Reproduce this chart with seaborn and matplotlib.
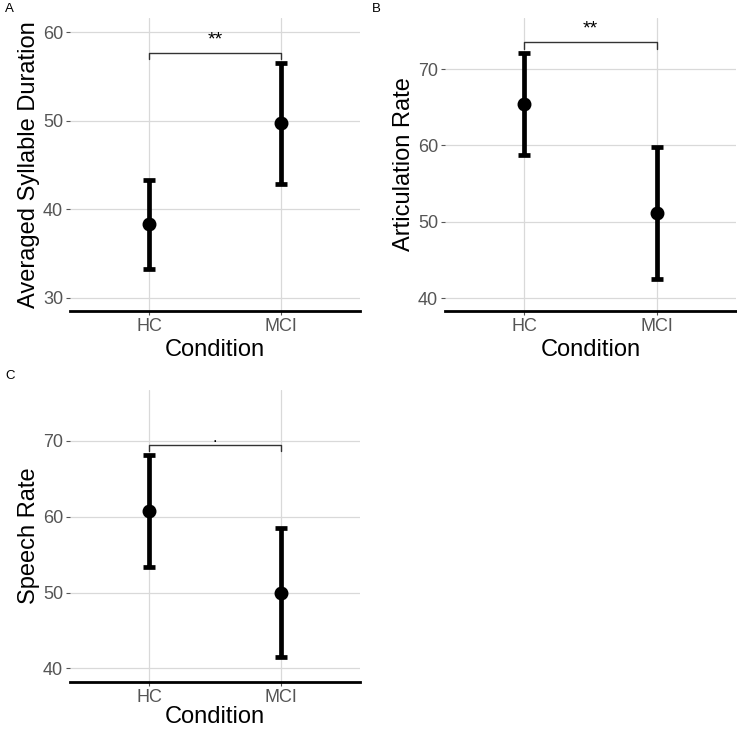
import pandas as pd
import seaborn as sns
import matplotlib.pyplot as plt

# DATA
conditions = ["HC", "MCI"]

syl_mean = [38.3, 49.7]
syl_lo = [33.3, 42.8]
syl_hi = [43.3, 56.5]

art_mean = [65.4, 51.2]
art_lo = [58.8, 42.5]
art_hi = [72.1, 59.8]

sp_mean = [60.7, 50.0]
sp_lo = [53.3, 41.5]
sp_hi = [68.1, 58.5]

# significance brackets: height, tip length, label
sig_y = [57.7, 73.6, 69.4]
sig_tip = [0.75, 0.9, 0.8]
sig_label = ["**", "**", "."]

ylabels = ["Averaged Syllable Duration", "Articulation Rate", "Speech Rate"]
yticks = [[30, 40, 50, 60], [40, 50, 60, 70], [40, 50, 60, 70]]
ylims = [(28.5, 61.6), (38.3, 76.7), (38.2, 76.7)]
panel_tags = ["A", "B", "C"]

sns.set_theme(style="white")
plt.rcParams["font.family"] = ["Liberation Sans", "DejaVu Sans"]


def long_df(mean, lo, hi):
    # median of (lo, mean, hi) = mean, min/max = interval ends
    rows = []
    for c, m, l, h in zip(conditions, mean, lo, hi):
        for v in (l, m, h):
            rows.append({"Condition": c, "value": v})
    return pd.DataFrame(rows)


frames = [long_df(syl_mean, syl_lo, syl_hi),
          long_df(art_mean, art_lo, art_hi),
          long_df(sp_mean, sp_lo, sp_hi)]

W, H = 737, 732
fig = plt.figure(figsize=(W / 100, H / 100), dpi=100)
boxes = [(70, 18, 360, 311), (445, 18, 736, 311), (70, 390, 360, 682)]
tag_pos = [(5, 3), (372, 3), (5, 370)]
xlabel_pad = [3, 3, 0]  # bottom panel sits at the figure edge

for i, df in enumerate(frames):
    x0, y0, x1, y1 = boxes[i]
    ax = fig.add_axes([x0 / W, 1 - y1 / H, (x1 - x0) / W, (y1 - y0) / H])

    sns.pointplot(data=df, x="Condition", y="value", order=conditions,
                  estimator="median", errorbar=("pi", 100),
                  color="black", linestyle="none", markersize=8,
                  capsize=0.09,
                  err_kws={"linewidth": 3.4, "solid_capstyle": "butt"},
                  ax=ax)

    ax.set_xlim(-0.6, 1.6)
    ax.set_ylim(*ylims[i])
    ax.set_yticks(yticks[i])
    ax.grid(True, color="#d9d9d9", linewidth=0.9)
    ax.set_axisbelow(True)
    for s in ["top", "right", "left"]:
        ax.spines[s].set_visible(False)
    ax.spines["bottom"].set_color("black")
    ax.spines["bottom"].set_linewidth(2.0)
    ax.tick_params(axis="both", colors="#555555", labelsize=13,
                   length=3, width=0.8, pad=2, left=True, bottom=True)
    ax.set_xlabel("Condition", fontsize=17, color="black",
                  labelpad=xlabel_pad[i])
    ax.set_ylabel(ylabels[i], fontsize=17, color="black", labelpad=2)

    # significance bracket
    y, t = sig_y[i], sig_tip[i]
    ax.plot([0, 0, 1, 1], [y - t, y, y, y - t], color="#333333",
            linewidth=1.0, clip_on=False)
    if sig_label[i] == ".":
        ax.annotate(sig_label[i], xy=(0.5, y), xytext=(0, 2.5),
                    textcoords="offset points", ha="center", va="baseline",
                    fontsize=12, color="black")
    else:
        ax.annotate(sig_label[i], xy=(0.5, y), xytext=(0, 9),
                    textcoords="offset points", ha="center", va="center",
                    fontsize=14, color="black")

    fig.text(tag_pos[i][0] / W, 1 - tag_pos[i][1] / H, panel_tags[i],
             fontsize=9.5, ha="left", va="top", color="black")

fig.savefig("out.png", dpi=100)
